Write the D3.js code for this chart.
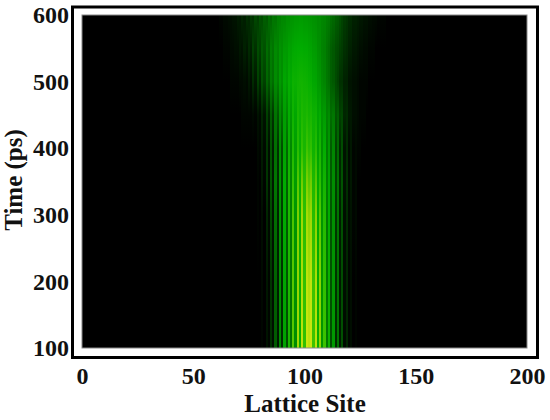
<!DOCTYPE html>
<html>
<head>
<meta charset="utf-8">
<script src="https://cdn.jsdelivr.net/npm/d3@7"></script>
<style>
  html, body { margin: 0; padding: 0; background: #fff; }
  text { font-family: "Liberation Serif", serif; font-weight: bold; fill: #111; }
</style>
</head>
<body>
<div id="chart"></div>
<script>
const firstSite = 59;
const timeTicks = [100, 200, 300, 400, 500, 600];
const siteTicks = [0, 50, 100, 150, 200];

// intensity in percent, sites 59 to 140, one list per time
const row100 = [0,0,0,0,0,0,0,0,0,0, 0,0,0,0,0,0,0,0,0,0,
  0,0,1,0,4,1,10,3,20,5, 34,9,46,16,60,26,76,36,90,52,
  96,70,99,96,99,72,96,54,86,40, 72,28,56,16,42,9,28,5,17,2,
  8,1,3,0,1,0,0,0,0,0, 0,0,0,0,0,0,0,0,0,0, 0,0];
const row200 = [0,0,0,0,0,0,0,0,0,0, 0,0,0,0,0,0,0,0,0,0,
  0,0,2,0,5,1,11,3,22,6, 36,10,48,18,62,27,76,38,86,54,
  92,70,96,92,96,72,92,52,84,40, 70,28,54,17,40,10,27,5,16,3,
  8,1,3,0,1,0,0,0,0,0, 0,0,0,0,0,0,0,0,0,0, 0,0];
const row300 = [0,0,0,0,0,0,0,0,0,0, 0,0,0,0,0,0,0,0,0,0,
  1,0,3,0,8,2,15,4,26,7, 38,12,50,20,62,30,74,40,82,54,
  88,68,90,84,88,66,84,50,76,40, 64,28,50,18,38,11,27,6,17,3,
  9,2,4,1,2,0,0,0,0,0, 0,0,0,0,0,0,0,0,0,0, 0,0];
const row350 = [0,0,0,0,0,0,0,0,0,0, 0,0,0,0,0,0,0,0,0,0,
  1,0,5,1,11,2,18,5,28,9, 38,14,50,22,60,32,70,43,76,54,
  80,66,82,76,80,62,76,50,68,40, 58,30,47,20,37,13,27,8,18,4,
  10,2,5,1,2,0,0,0,0,0, 0,0,0,0,0,0,0,0,0,0, 0,0];
const row400 = [0,0,0,0,0,0,0,0,0,0, 0,0,0,0,0,0,0,0,0,0,
  2,1,6,2,11,3,18,6,26,10, 36,16,46,24,54,34,62,44,66,52,
  70,60,72,66,70,56,66,46,60,37, 51,29,42,20,33,13,24,8,16,4,
  9,2,5,1,2,1,1,0,0,0, 0,0,0,0,0,0,0,0,0,0, 0,0];
const row450 = [0,0,0,0,0,0,0,0,0,0, 0,0,0,1,1,1,1,1,2,1,
  4,2,8,4,13,7,20,11,27,18, 35,26,44,33,51,41,56,48,60,55,
  62,59,62,58,60,55,56,47,51,40, 43,32,36,25,28,18,21,13,14,8,
  9,5,5,3,3,2,1,1,1,0, 0,0,0,0,0,0,0,0,0,0, 0,0];
const row500 = [0,0,0,0,0,0,0,0,1,1, 1,1,2,2,3,2,5,3,
  9,5,13,8,17,13,23,18,29,25, 36,30,42,37,48,44,52,49,55,54,
  56,57,57,56,55,53,52,48,47,42, 41,35,33,28,26,21,19,15,13,10,
  10,7,7,4,4,3,3,2,1,1, 1,1,0,0,0,0,0,0,0,0, 0,0,0,0];
const row550 = [0,0,0,0,0,1,1,1, 2,2,3,3,5,4,7,5,9,7,
  13,10,16,13,20,17,25,21,30,27, 35,32,39,37,42,42,46,45,48,49,
  50,50,50,49,49,47,46,43,42,38, 37,32,31,27,25,21,19,16,15,13,
  12,10,9,7,7,5,5,4,3,3, 2,2,1,1,1,0,0,0,0,0, 0,0,0,0];
const row600 = [0,0,0,1,1,2,2,3, 3,4,4,6,5,8,6,10,8,12,
  10,15,12,18,15,21,18,25,22,28, 26,31,30,34,33,37,36,39,39,41,
  41,42,42,41,41,40,39,38,37,35, 36,34,33,30,29,26,24,21,20,17,
  14,12,11,9,9,7,7,6,5,5, 4,4,3,3,2,2,1,1,1,1, 0,0,0,0];

const rowTimes = [100, 200, 300, 350, 400, 450, 500, 550, 600];
const rows = [row100, row200, row300, row350, row400, row450, row500, row550, row600];

const width = 550,
  height = 420;

const svg = d3.select("#chart").append("svg").attr("width", width).attr("height", height).style("display", "block");

const x = d3.scaleLinear().domain([0, 200]).range([82, 527]);
const y = d3.scaleLinear().domain([100, 600]).range([348, 15]);

const color = d3
  .scaleLinear()
  .domain([0, 8, 15, 30, 50, 70, 85, 100])
  .range(["#000000", "#002600", "#004a00", "#007e00", "#00ac00", "#30c000", "#90d400", "#d0e810"]);

// plot background and frame
svg
  .append("rect")
  .attr("x", x.range()[0] - 9.5)
  .attr("y", y.range()[1] - 8)
  .attr("width", x.range()[1] - x.range()[0] + 20)
  .attr("height", y.range()[0] - y.range()[1] + 17.5)
  .attr("fill", "#fff")
  .attr("stroke", "#000")
  .attr("stroke-width", 3);

svg
  .append("rect")
  .attr("x", x.range()[0])
  .attr("y", y.range()[1])
  .attr("width", x.range()[1] - x.range()[0])
  .attr("height", y.range()[0] - y.range()[1])
  .attr("fill", "#000");

const defs = svg.append("defs");
const sites = d3.range(row100.length).map(i => i + firstSite);

// each site column fades between the times
const grads = defs
  .selectAll("linearGradient")
  .data(sites)
  .join("linearGradient")
  .attr("id", d => `site-${d}`)
  .attr("gradientUnits", "userSpaceOnUse")
  .attr("x1", 0)
  .attr("x2", 0)
  .attr("y1", y(100))
  .attr("y2", y(600));

grads
  .selectAll("stop")
  .data((d, i) => rows.map((r, j) => ({ t: rowTimes[j], v: r[i] })))
  .join("stop")
  .attr("offset", d => (d.t - 100) / 500)
  .attr("stop-color", d => color(d.v));

svg
  .append("g")
  .attr("shape-rendering", "crispEdges")
  .selectAll("rect")
  .data(sites)
  .join("rect")
  .attr("x", d => x(d - 0.5))
  .attr("width", d => x(d + 0.5) - x(d - 0.5))
  .attr("y", y(600))
  .attr("height", y(100) - y(600))
  .attr("fill", d => `url(#site-${d})`);

// thin grey edge goes on top of the columns
svg
  .append("rect")
  .attr("x", x.range()[0])
  .attr("y", y.range()[1])
  .attr("width", x.range()[1] - x.range()[0])
  .attr("height", y.range()[0] - y.range()[1])
  .attr("fill", "none")
  .attr("stroke", "#888")
  .attr("stroke-width", 1);

// axes, tick marks are not drawn in the original
const xAxis = svg
  .append("g")
  .attr("transform", `translate(0,${y(100) + 11})`)
  .call(d3.axisBottom(x).tickValues(siteTicks).tickSize(0).tickPadding(8));

const yAxis = svg
  .append("g")
  .attr("transform", `translate(${x(0) - 11},0)`)
  .call(d3.axisLeft(y).tickValues(timeTicks).tickSize(0).tickPadding(2));

xAxis.select(".domain").remove();
yAxis.select(".domain").remove();
svg.selectAll(".tick text").style("font-size", "24px").style("font-family", '"Liberation Serif", serif').style("font-weight", "bold").attr("fill", "#111");

svg
  .append("text")
  .attr("x", 305)
  .attr("y", 412)
  .attr("text-anchor", "middle")
  .style("font-size", "25px")
  .text("Lattice Site");

svg
  .append("text")
  .attr("transform", "translate(22,180) rotate(-90)")
  .attr("text-anchor", "middle")
  .style("font-size", "25px")
  .text("Time (ps)");
</script>
</body>
</html>
